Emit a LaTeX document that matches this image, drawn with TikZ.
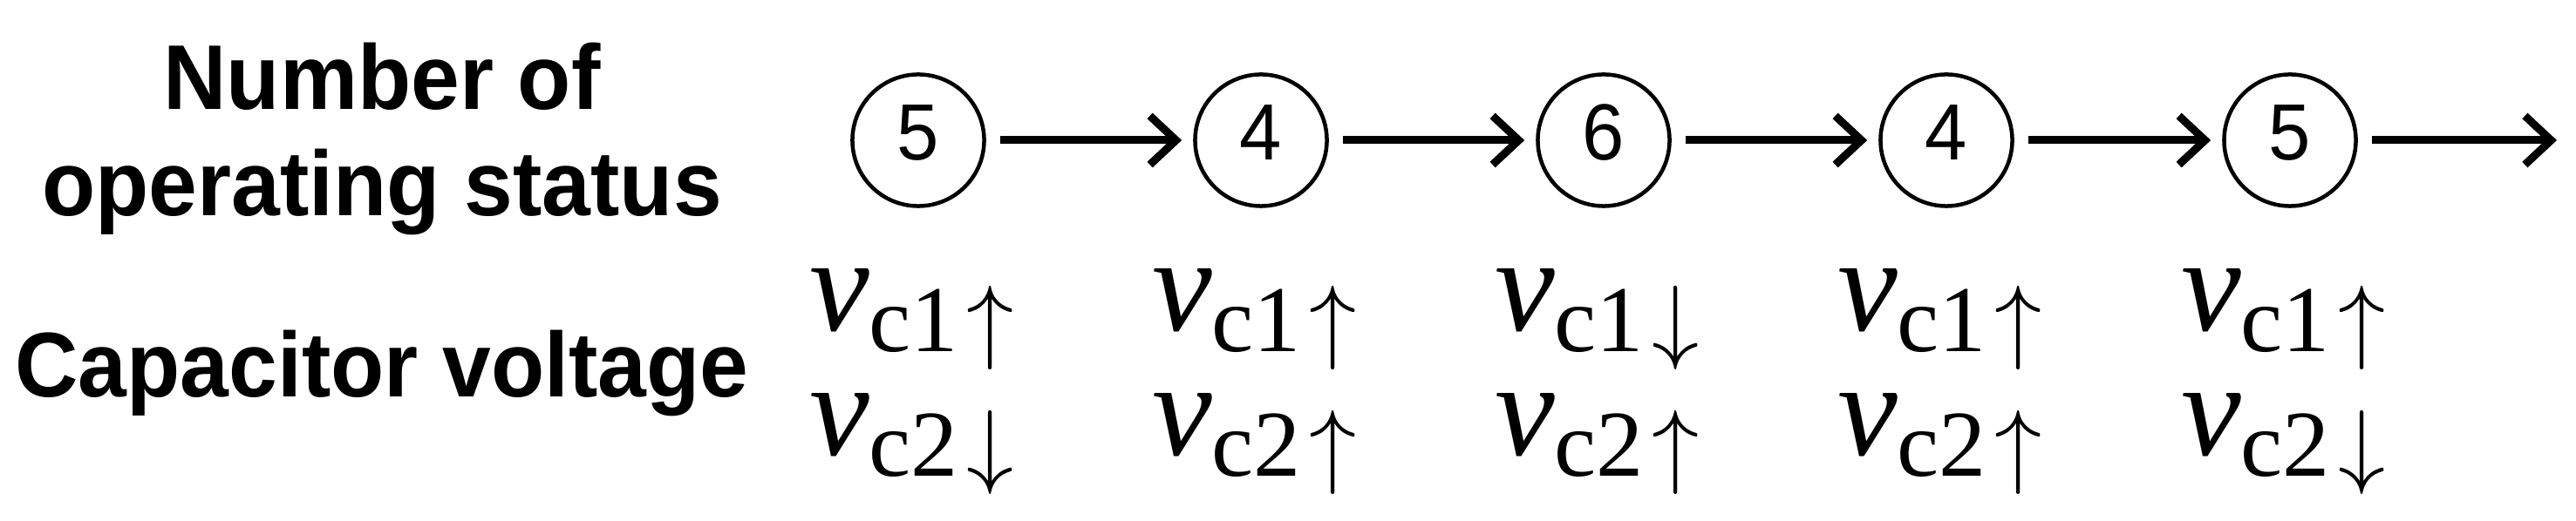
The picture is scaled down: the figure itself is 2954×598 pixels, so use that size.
\RequirePackage{fix-cm}
\documentclass[tikz,border=0pt]{standalone}
\usepackage{amsmath}
\usepackage{fontspec}
\setmainfont{Liberation Serif}
\newfontfamily\lblfont[FakeStretch=0.95]{Liberation Sans Bold}
\newfontfamily\numfont[FakeStretch=0.95]{Liberation Sans}
\usetikzlibrary{arrows.meta}
\begin{document}
\begin{tikzpicture}[x=0.01cm,y=-0.01cm,
  state/.style={circle,draw,line width=0.045cm,minimum size=1.51cm,inner sep=0pt,
    font=\numfont\fontsize{26pt}{30pt}\selectfont,text height=0.45cm,text depth=0pt},
  flow/.style={line width=0.09cm,-{Straight Barb[length=0.3cm,width=0.56cm]},
    shorten <=0.16cm,shorten >=0.13cm},
  rowlbl/.style={font=\lblfont\fontsize{30pt}{36pt}\selectfont,anchor=base,inner sep=0pt},
  volt/.style={font=\fontsize{44pt}{50pt}\selectfont,anchor=base,inner sep=0pt}]
\useasboundingbox (0,0) rectangle (2954,598);
\node[rowlbl] (n1) at (438,126) {Number of};
\node[rowlbl] (n2) at (438,248) {operating status};
\node[rowlbl] (cv) at (438,456) {Capacitor voltage};
\node[state] (s1) at (1053,161) {5};
\node[state] (s2) at (1446,161) {4};
\node[state] (s3) at (1839,161) {6};
\node[state] (s4) at (2232,161) {4};
\node[state] (s5) at (2626,161) {5};
\coordinate (end) at (2932,161);
\draw[flow] (s1) -- (s2);
\draw[flow] (s2) -- (s3);
\draw[flow] (s3) -- (s4);
\draw[flow] (s4) -- (s5);
\draw[flow,shorten >=0pt] (s5) -- (end);
\node[volt] (a1) at (1046,380) {$\textit{v}_{\text{c1}\mkern1.5mu\uparrow}$};
\node[volt] (b1) at (1046,523) {$\textit{v}_{\text{c2}\mkern1.5mu\downarrow}$};
\node[volt] (a2) at (1439,380) {$\textit{v}_{\text{c1}\mkern1.5mu\uparrow}$};
\node[volt] (b2) at (1439,523) {$\textit{v}_{\text{c2}\mkern1.5mu\uparrow}$};
\node[volt] (a3) at (1832,380) {$\textit{v}_{\text{c1}\mkern1.5mu\downarrow}$};
\node[volt] (b3) at (1832,523) {$\textit{v}_{\text{c2}\mkern1.5mu\uparrow}$};
\node[volt] (a4) at (2225,380) {$\textit{v}_{\text{c1}\mkern1.5mu\uparrow}$};
\node[volt] (b4) at (2225,523) {$\textit{v}_{\text{c2}\mkern1.5mu\uparrow}$};
\node[volt] (a5) at (2619,380) {$\textit{v}_{\text{c1}\mkern1.5mu\uparrow}$};
\node[volt] (b5) at (2619,523) {$\textit{v}_{\text{c2}\mkern1.5mu\downarrow}$};
\end{tikzpicture}
\end{document}
